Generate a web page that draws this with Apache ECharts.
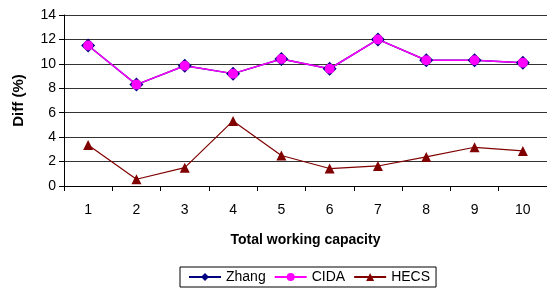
<!DOCTYPE html>
<html>
<head>
<meta charset="utf-8">
<script src="https://cdn.jsdelivr.net/npm/echarts@6/dist/echarts.min.js"></script>
<style>
  html, body { margin: 0; padding: 0; background: #fff; }
  #chart { width: 547px; height: 292px; }
</style>
</head>
<body>
<div id="chart"></div>
<script>
  // categories and values
  var categories = ['1', '2', '3', '4', '5', '6', '7', '8', '9', '10'];
  var zhang = [11.5, 8.3, 9.85, 9.2, 10.4, 9.6, 12.0, 10.3, 10.3, 10.1];
  var cida = [11.5, 8.3, 9.85, 9.2, 10.4, 9.6, 12.0, 10.3, 10.3, 10.1];
  var hecs = [3.35, 0.55, 1.5, 5.33, 2.5, 1.43, 1.64, 2.38, 3.17, 2.87];

  var font = 'Liberation Sans, Arial, sans-serif';
  var myChart = echarts.init(document.getElementById('chart'), null, {renderer: 'canvas'});
  var option = {
    animation: false,
    grid: {
      top: 15,
      bottom: 106,
      left: 64,
      right: 0
    },
    legend: {
      left: 180,
      top: 267,
      itemWidth: 32,
      itemHeight: 10,
      itemGap: 8,
      padding: [3, 6, 3, 8],
      borderColor: '#000',
      borderWidth: 1,
      textStyle: {fontFamily: font, fontSize: 14, color: '#000'},
      data: ['Zhang', 'CIDA', 'HECS']
    },
    xAxis: {
      type: 'category',
      data: categories,
      name: 'Total working capacity',
      nameLocation: 'middle',
      nameGap: 47,
      nameTextStyle: {fontFamily: font, fontSize: 14, fontWeight: 'bold', color: '#000'},
      axisLine: {lineStyle: {color: '#000'}},
      axisTick: {show: true, length: 5, lineStyle: {color: '#000'}},
      axisLabel: {fontFamily: font, fontSize: 14, color: '#000', margin: 17}
    },
    yAxis: {
      type: 'value',
      min: 0,
      max: 14,
      interval: 2,
      name: 'Diff (%)',
      nameLocation: 'middle',
      nameGap: 38,
      nameTextStyle: {fontFamily: font, fontSize: 15, fontWeight: 'bold', color: '#000'},
      axisLine: {show: true, lineStyle: {color: '#000'}},
      axisTick: {show: true, length: 5, lineStyle: {color: '#000'}},
      axisLabel: {fontFamily: font, fontSize: 14, color: '#000', margin: 8},
      splitLine: {show: true, lineStyle: {color: '#333', width: 1}}
    },
    series: [
      {
        name: 'Zhang',
        type: 'line',
        data: zhang,
        symbol: 'diamond',
        symbolSize: 14,
        itemStyle: {color: '#000080'},
        lineStyle: {color: '#000080', width: 1.5}
      },
      {
        name: 'CIDA',
        type: 'line',
        data: cida,
        symbol: 'circle',
        symbolSize: 10,
        itemStyle: {color: '#FF00FF'},
        lineStyle: {color: '#FF00FF', width: 1.5}
      },
      {
        name: 'HECS',
        type: 'line',
        data: hecs,
        symbol: 'triangle',
        symbolSize: 10,
        itemStyle: {color: '#800000'},
        lineStyle: {color: '#800000', width: 1.2}
      }
    ]
  };
  myChart.setOption(option);
  window.addEventListener('resize', myChart.resize);
</script>
</body>
</html>
